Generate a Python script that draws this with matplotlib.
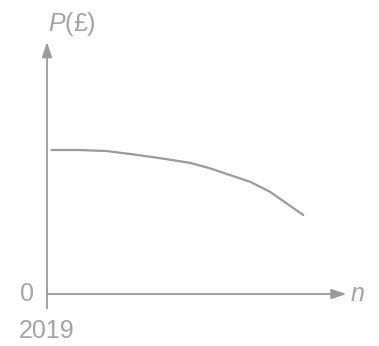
import matplotlib
matplotlib.use("Agg")
import matplotlib.pyplot as plt
import numpy as np

# Sketch of price P against years n after 2019
n_vals = [0.18, 1.29, 2.33, 3.36, 4.29, 5.59, 6.37, 7.15, 7.93, 8.71, 9.36, 10.01]
p_vals = [100.0, 100.0, 99.3, 97.0, 94.7, 91.1, 87.3, 82.6, 78.0, 71.0, 63.0, 54.9]

x_label = "n"
y_label = "$P$(£)"
origin_label = "0"
start_year = "2019"

grey = "#9a9a9a"
txt_grey = "#a3a3a3"
font = "Liberation Sans"

plt.rcParams['mathtext.fontset'] = 'custom'
plt.rcParams['mathtext.it'] = 'Liberation Sans:italic'
plt.rcParams['mathtext.rm'] = 'Liberation Sans'

fig = plt.figure(figsize=(3.79, 3.46), dpi=100)
ax = fig.add_axes([0, 0, 1, 1])
ax.set_xlim(-1.836, 12.97)
ax.set_ylim(-36.1, 204.2)
ax.axis("off")

# axes drawn by hand with arrow heads
ax.annotate("", xy=(11.7, 0), xytext=(0, 0),
            arrowprops=dict(arrowstyle="-|>,head_length=0.9,head_width=0.3",
                            color=grey, lw=1.3, shrinkA=0, shrinkB=0))
ax.annotate("", xy=(0, 175), xytext=(0, -10),
            arrowprops=dict(arrowstyle="-|>,head_length=0.9,head_width=0.3",
                            color=grey, lw=1.3, shrinkA=0, shrinkB=0))

ax.plot(n_vals, p_vals, color=grey, lw=1.6, solid_capstyle="round",
        solid_joinstyle="round")

ax.text(12.15, 0, x_label, color=txt_grey, fontsize=18, style="italic",
        family=font, ha="center", va="center")
ax.text(0.98, 187.5, y_label, color=txt_grey, fontsize=18,
        family=font, ha="center", va="center")
ax.text(-0.78, 0, origin_label, color=txt_grey, fontsize=18, family=font,
        ha="center", va="center")
ax.text(0.0, -25.7, start_year, color=txt_grey, fontsize=18, family=font,
        ha="center", va="center")

fig.savefig("out.png", dpi=100, facecolor="white")
